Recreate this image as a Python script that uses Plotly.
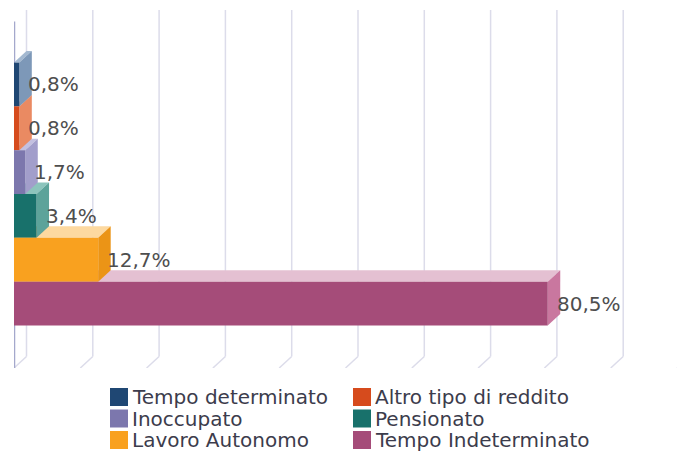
import plotly.graph_objects as go

# ---- data ----
categories = ["Tempo determinato", "Altro tipo di reddito", "Inoccupato",
              "Pensionato", "Lavoro Autonomo", "Tempo Indeterminato"]
values = [0.8, 0.8, 1.7, 3.4, 12.7, 80.5]
value_labels = ["0,8%", "0,8%", "1,7%", "3,4%", "12,7%", "80,5%"]
grid_ticks = [0, 10, 20, 30, 40, 50, 60, 70, 80, 90, 100]

# ---- styles ----
front_colors = ["#1f4773", "#d64b1d", "#7c77ad", "#18716b", "#f9a11f", "#a54c79"]
top_colors = ["#a3b8d0", "#f2ab8c", "#c3c0e0", "#8cc4bc", "#fdd9a0", "#e4c0d2"]
side_colors = ["#7d98b8", "#ea8a62", "#a29ecb", "#5da39a", "#eb9416", "#c9779f"]

W, H = 683, 454
ML, MR, MT, MB = 14, 6, 10, 86
X_RANGE = [0, 100]
Y_RANGE = [-1.47, 6.70]
px_x = (W - ML - MR) / (X_RANGE[1] - X_RANGE[0])
px_y = (H - MT - MB) / (Y_RANGE[1] - Y_RANGE[0])
DX = 12.5 / px_x
DY = 11.5 / px_y

n = len(categories)
positions = [n - 1 - i for i in range(n)]

fig = go.Figure()
shapes = []

grid_col = "#dcdcea"
for g in grid_ticks:
    shapes.append(dict(type="line", xref="x", yref="y", layer="below",
                       x0=g, y0=Y_RANGE[0], x1=g + DX, y1=Y_RANGE[0] + DY,
                       line=dict(color=grid_col, width=1.5)))
    shapes.append(dict(type="line", xref="x", yref="y", layer="below",
                       x0=g + DX, y0=Y_RANGE[0] + DY, x1=g + DX, y1=Y_RANGE[1],
                       line=dict(color=grid_col, width=1.5)))
shapes.append(dict(type="line", xref="x", yref="y", layer="below",
                   x0=0, y0=Y_RANGE[0], x1=0, y1=Y_RANGE[1] - DY,
                   line=dict(color="#a4a8cc", width=2.5)))

# 3D faces, drawn from the bottom bar upward
for i in sorted(range(n), key=lambda k: positions[k]):
    v, p = values[i], positions[i]
    top = (f"M 0 {p + 0.5} L {v} {p + 0.5} L {v + DX} {p + 0.5 + DY} "
           f"L {DX} {p + 0.5 + DY} Z")
    side = (f"M {v} {p - 0.5} L {v + DX} {p - 0.5 + DY} "
            f"L {v + DX} {p + 0.5 + DY} L {v} {p + 0.5} Z")
    shapes.append(dict(type="path", path=top, xref="x", yref="y", layer="below",
                       fillcolor=top_colors[i], line=dict(width=0)))
    shapes.append(dict(type="path", path=side, xref="x", yref="y", layer="below",
                       fillcolor=side_colors[i], line=dict(width=0)))

for i in range(n):
    fig.add_trace(go.Bar(
        x=[values[i]], y=[positions[i]], orientation="h", width=1,
        marker=dict(color=front_colors[i], line=dict(width=0)),
        name=categories[i], showlegend=False, hoverinfo="skip"))

annotations = []
for i in range(n):
    annotations.append(dict(x=values[i], y=positions[i], xref="x", yref="y",
                            text=value_labels[i], showarrow=False,
                            xanchor="left", yanchor="middle", xshift=7,
                            font=dict(family="DejaVu Sans", size=20, color="#4e4e4e")))

# legend (two columns, drawn in paper pixels)
LEG_COL_X = [110, 353]
LEG_ROW_Y = [397, 418.5, 440]
SW = 18
def px_to_paper_x(px):
    return (px - ML) / (W - ML - MR)
def px_to_paper_y(py):
    return (H - MB - py) / (H - MT - MB)

for i in range(n):
    cx = LEG_COL_X[i % 2]
    cy = LEG_ROW_Y[i // 2]
    shapes.append(dict(type="rect", xref="paper", yref="paper",
                       x0=px_to_paper_x(cx), x1=px_to_paper_x(cx + SW),
                       y0=px_to_paper_y(cy + SW / 2), y1=px_to_paper_y(cy - SW / 2),
                       fillcolor=front_colors[i], line=dict(width=0)))
    annotations.append(dict(x=px_to_paper_x(cx + SW + 2), y=px_to_paper_y(cy),
                            xref="paper", yref="paper", text=categories[i],
                            showarrow=False, xanchor="left", yanchor="middle",
                            font=dict(family="DejaVu Sans", size=20, color="#3c3c4c")))

fig.update_layout(
    width=W, height=H,
    margin=dict(l=ML, r=MR, t=MT, b=MB, autoexpand=False),
    paper_bgcolor="white", plot_bgcolor="white",
    barmode="overlay",
    shapes=shapes, annotations=annotations,
    xaxis=dict(range=X_RANGE, visible=False, fixedrange=True),
    yaxis=dict(range=Y_RANGE, visible=False, fixedrange=True),
    showlegend=False,
    font=dict(family="DejaVu Sans"),
)

fig.write_html("out.html", config={"displayModeBar": False},
               post_script="document.body.style.margin='0';document.body.style.overflow='hidden';")
